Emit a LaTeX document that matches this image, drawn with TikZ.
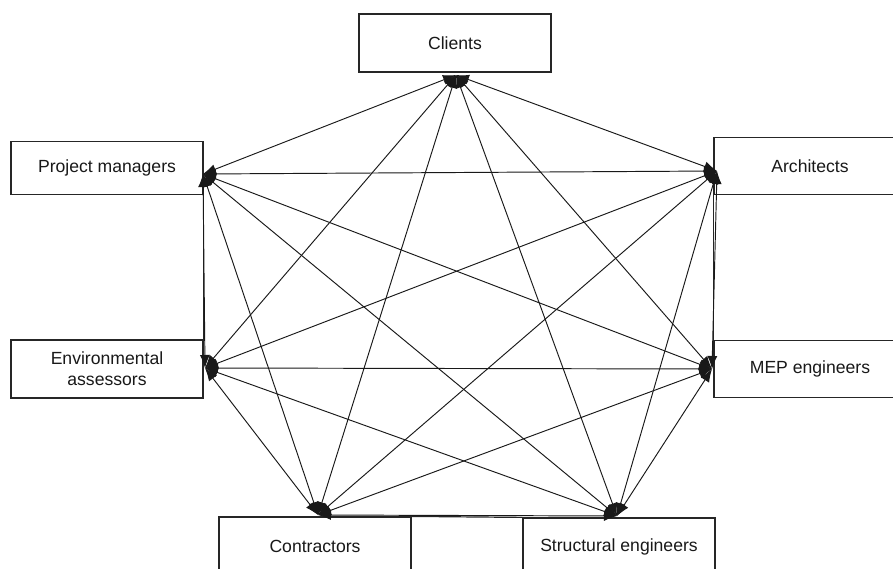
\documentclass[tikz,border=0pt]{standalone}
\usepackage{fontspec}
\setmainfont{Liberation Sans}
\usetikzlibrary{arrows.meta}
\begin{document}
\begin{tikzpicture}[x=1pt,y=-1pt,
  box/.style={draw=black!85,line width=1.2pt,fill=white,minimum width=192pt,inner sep=0pt,align=center,font=\fontsize{17.6}{21}\selectfont,text=black!90},
  link/.style={draw=black!90,line width=0.95pt,{Latex[length=13pt,width=10pt]}-{Latex[length=13pt,width=10pt]}},
  plain/.style={draw=black!85,line width=1.2pt}]
\useasboundingbox (0,0) rectangle (893,569);
% boxes
\node[box,minimum height=58pt] (clients) at (455,43) {\raisebox{-1.5pt}{Clients}};
\node[box,minimum height=53pt] (pm) at (107,168) {\raisebox{-1pt}{Project managers}};
\node[box,minimum height=57pt] (arch) at (810,166) {\raisebox{-1pt}{Architects}};
\node[box,minimum height=58pt] (env) at (107,369) {Environmental\\assessors};
\node[box,minimum height=57pt] (mep) at (810,369) {\raisebox{-1pt}{MEP engineers}};
\node[box,minimum height=58pt] (contr) at (315,546) {\raisebox{-1.5pt}{Contractors}};
\node[box,minimum height=58pt] (struct) at (619,547) {\raisebox{-1pt}{Structural engineers}};
% plain connecting lines
\draw[plain] (pm.south east) -- (env.north east);
\draw[plain] (arch.south west) -- (mep.north west);
\draw[plain] (contr.north east) -- (struct.north west);
% arrow end points
\coordinate (C) at (456,75);
\coordinate (P) at (203,174);
\coordinate (A) at (717,171);
\coordinate (E) at (205,368);
\coordinate (M) at (712,369);
\coordinate (K) at (318,515);
\coordinate (S) at (617,516);
% complete graph
\foreach \a/\b in {C/P,C/A,C/E,C/M,C/K,C/S,
                   P/A,P/E,P/M,P/K,P/S,
                   A/E,A/M,A/K,A/S,
                   E/M,E/K,E/S,
                   M/K,M/S,
                   K/S}
  \draw[link] (\a) -- (\b);
\end{tikzpicture}
\end{document}
